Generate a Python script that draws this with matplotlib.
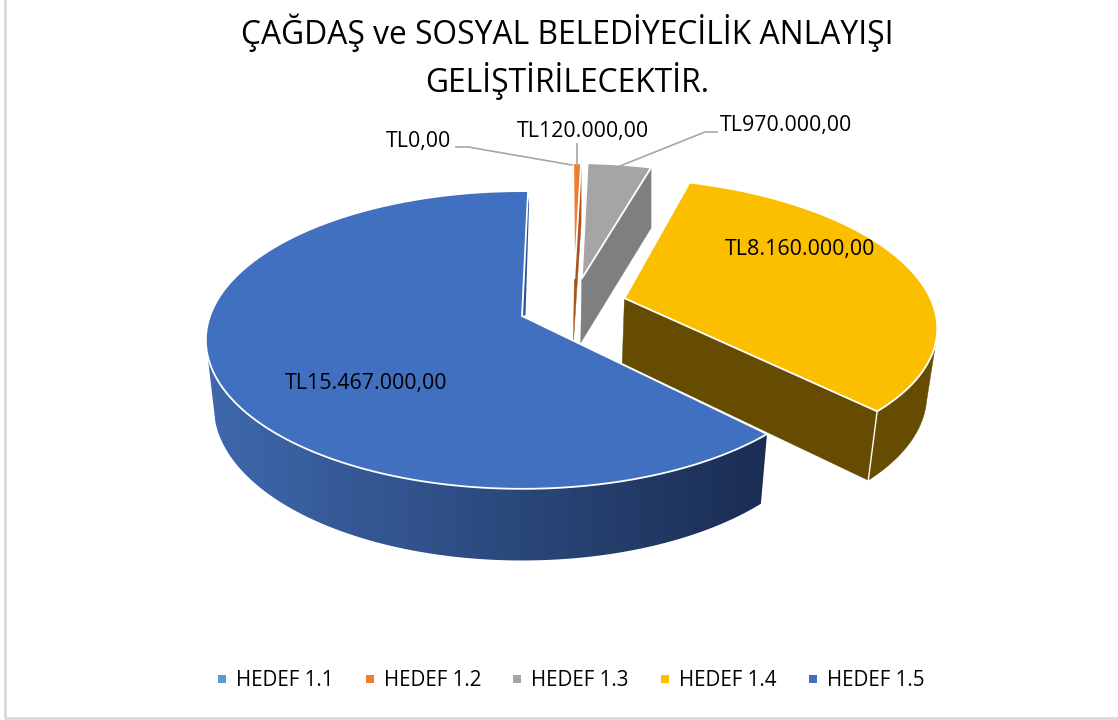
#!/usr/bin/env python3
import numpy as np
import matplotlib
matplotlib.use('Agg')
from matplotlib import pyplot as plt
from matplotlib.colors import LinearSegmentedColormap
from matplotlib.patches import Polygon, Rectangle

##################---------Chart Data---------##################################
title_lines = ['ÇAĞDAŞ ve SOSYAL BELEDİYECİLİK ANLAYIŞI', 'GELİŞTİRİLECEKTİR.']
categories = ['HEDEF 1.1', 'HEDEF 1.2', 'HEDEF 1.3', 'HEDEF 1.4', 'HEDEF 1.5']
values = [0, 120000, 970000, 8160000, 15467000]
colors = ['#5b9bd5', '#ed7d31', '#a5a5a5', '#fcbf00', '#4270c0']

##################---------Layout---------######################################
WIDTH = 1118
HEIGHT = 720
CX, CY = 522, 316
RX, RY = 312, 145
PERSP = 0.161
START_ANGLE = 1.3
explode = [(0.175, 0.27), (0.175, 0.27), (0.2, 0.27), (0.335, 0.125), (0, 0)]
side_colors = ['#41719c', '#a8531c', '#7f7f7f', '#654c00', '#2f5597']
FONT = 'Open Sans'
WALL_FROM, WALL_TO = 105, 255  # outer wall only shows in this range of angles


def money(val):
    return 'TL' + '{:,}'.format(val).replace(',', '.') + ',00'


## map a point of the pie plane to picture pixels (far side is smaller)
def project(u, v):
    w = 1 / (1 + PERSP * v)
    return CX + RX * u * w, CY - RY * v * w


## same point on the lower ring of the pie
def lower(p, v):
    sx = 0.975 + 0.025 * np.clip(v, 0, 1)
    return CX + (p[0] - CX) * sx, CY + (p[1] - CY) * 1.035 + 65.6


def rim_points(a0, a1, off):
    n = max(int(abs(a1 - a0) * 2), 2)
    pts = []
    for a in np.radians(np.linspace(a0, a1, n)):
        pts.append((off[0] + np.sin(a), off[1] + np.cos(a)))
    return pts


## outer wall of a slice as one closed outline
def side_outline(a0, a1, off):
    uv = rim_points(max(a0, WALL_FROM), min(a1, WALL_TO), off)
    upper = [project(*p) for p in uv]
    under = [lower(project(*p), p[1]) for p in uv]
    return upper + under[::-1]


def draw_end_face(ax, apex_uv, rim_uv, col, zorder):
    a, r = project(*apex_uv), project(*rim_uv)
    ax.add_patch(Polygon([a, r, lower(r, rim_uv[1]), lower(a, apex_uv[1])], closed=True,
                         fc=col, ec=col, lw=0.3, zorder=zorder))


def main():
    fig = plt.figure(figsize=(WIDTH / 100, HEIGHT / 100), dpi=100)
    ax = fig.add_axes([0, 0, 1, 1])

    # blue wall runs lighter on the left, dark on the right
    cmap = LinearSegmentedColormap.from_list('wall', ['#3f68ad', '#1a2d52'])

    total = sum(values)
    angle = START_ANGLE
    spans = []
    for val in values:
        spans.append((angle, angle + val / total * 360))
        angle = spans[-1][1]

    for i, val in enumerate(values):
        if val == 0:
            continue
        a0, a1 = spans[i]
        off = explode[i]
        is_blue = i == 4
        zorder = 5 if is_blue else 3
        apex = (off[0], off[1])
        end = rim_points(a1, a1, off)[0]

        # outer rim
        if a1 - a0 > 30:
            outline = side_outline(a0, a1, off)
            if is_blue:
                xs = [p[0] for p in outline]
                im = ax.imshow(np.linspace(0, 1, 256).reshape(1, -1), cmap=cmap, aspect='auto',
                               extent=[min(xs), max(xs), HEIGHT, 0], zorder=zorder)
                im.set_clip_path(Polygon(outline, closed=True, transform=ax.transData))
            else:
                ax.add_patch(Polygon(outline, closed=True, fc=side_colors[i], ec=side_colors[i],
                                     lw=0.3, zorder=zorder))
        # inner face, seen on the far end of the slice
        if not is_blue:
            draw_end_face(ax, apex, end, side_colors[i], zorder)
            if a1 - a0 > 30:
                # white line where inner face meets the rim
                r = project(*end)
                q = lower(r, end[1])
                ax.plot([r[0], q[0]], [r[1], q[1]], color='white', lw=1.0, zorder=zorder)
        # top face
        top = [project(*apex)] + [project(*p) for p in rim_points(a0, a1, off)]
        ax.add_patch(Polygon(top, closed=True, fc=colors[i], ec='white', lw=1.3,
                             joinstyle='round', zorder=zorder + 1))
        if is_blue:
            # thin inner face next to the top of the slice
            a, r = project(*apex), top[-1]
            ax.add_patch(Polygon([(a[0] + 1, a[1]), (a[0] + 3.5, a[1] - 1), (r[0] + 1, r[1] + 12),
                                  (r[0] + 0.5, r[1] + 6)], closed=True, fc=side_colors[i],
                                 ec='none', zorder=zorder + 2))

    ax.set_xlim(0, WIDTH)
    ax.set_ylim(HEIGHT, 0)
    ax.set_axis_off()

    # chart frame, only the left and bottom show in the picture
    ax.plot([5, 5, WIDTH], [0, 718, 718], color='#d9d9d9', lw=2, zorder=1)

    # leader lines
    leader = '#a6a6a6'
    ax.plot([572, 468, 456], [165, 147, 147], color=leader, lw=1.2, zorder=8)
    ax.plot([577, 577], [165, 144], color=leader, lw=1.2, zorder=8)
    ax.plot([620, 705, 717], [166, 132, 132], color=leader, lw=1.2, zorder=8)

    # data labels
    label_pos = [(419, 141), (583, 131), (786, 125), (800, 249), (366, 384)]
    for val, pos in zip(values, label_pos):
        ax.text(pos[0], pos[1], money(val), family=FONT, fontsize=15.4, color='black',
                ha='center', va='center', zorder=9)

    # title
    ax.text(567, 33, title_lines[0], family=FONT, fontsize=22.9, color='black',
            ha='center', va='center', zorder=9)
    ax.text(567, 81, title_lines[1], family=FONT, fontsize=22.9, color='black',
            ha='center', va='center', zorder=9)

    # legend
    legend_x = [222, 370, 517, 665, 813]
    for name, col, x in zip(categories, colors, legend_x):
        ax.add_patch(Rectangle((x - 4, 675), 8, 8, fc=col, ec='none', zorder=9))
        ax.text(x + 14, 680, name, family=FONT, fontsize=14.8, color='black',
                ha='left', va='center', zorder=9)

    fig.savefig('out.png', dpi=100, facecolor='white')


if __name__ == '__main__':
    main()
